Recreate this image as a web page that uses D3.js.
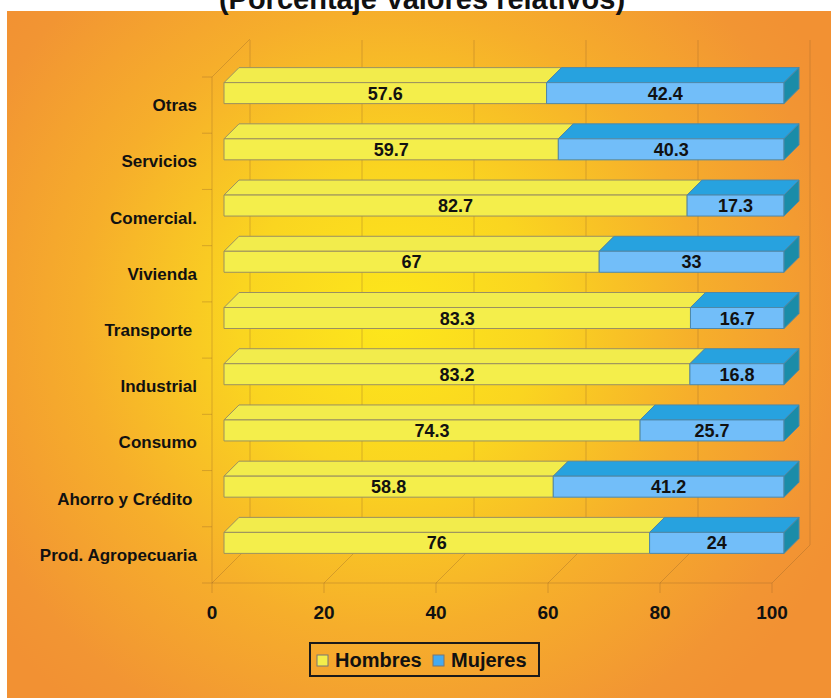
<!DOCTYPE html>
<html><head><meta charset="utf-8">
<script src="https://cdn.jsdelivr.net/npm/d3@7"></script>
<style>
html,body{margin:0;padding:0;background:#fff;}
svg{display:block;font-family:"Liberation Sans",Arial,sans-serif;}
</style></head>
<body>
<svg id="chart" width="831" height="698"></svg>
<script>
const title = "(Porcentaje Valores relativos)";
const categories = ["Otras","Servicios","Comercial.","Vivienda","Transporte ","Industrial","Consumo","Ahorro y Crédito ","Prod. Agropecuaria"];
const hombres = [57.6,59.7,82.7,67,83.3,83.2,74.3,58.8,76];
const mujeres = [42.4,40.3,17.3,33,16.7,16.8,25.7,41.2,24];
const seriesNames = ["Hombres","Mujeres"];
const xTicks = [0,20,40,60,80,100];

const svg = d3.select("#chart");
const defs = svg.append("defs");
const grad = defs.append("radialGradient").attr("id","bg")
  .attr("gradientUnits","userSpaceOnUse").attr("cx",390).attr("cy",320).attr("r",500);
[[0,"#FDE71B"],[0.3,"#FAD520"],[0.62,"#F6AE2B"],[0.9,"#F29533"],[1,"#F29133"]]
  .forEach(([o,c])=>grad.append("stop").attr("offset",o).attr("stop-color",c));

svg.append("rect").attr("x",7).attr("y",11).attr("width",824).attr("height",687).attr("fill","url(#bg)");

svg.append("text").attr("x",422).attr("y",9).attr("text-anchor","middle")
  .attr("font-size",29).attr("font-weight","bold").attr("fill","#111").text(title);

const x = d3.scaleLinear().domain([0,100]).range([212,772]);
const y = d3.scaleBand().domain(categories).range([77,583]);
const D = 38;        // full depth
const off = 12;      // bar front face depth offset
const bd = 15;       // bar depth
const faceH = 21;

const grid = svg.append("g").attr("stroke","rgba(150,100,40,0.35)").attr("stroke-width",1).attr("fill","none");
// back wall vertical gridlines
xTicks.forEach(t=>{
  grid.append("line").attr("x1",x(t)+D).attr("x2",x(t)+D).attr("y1",y.range()[0]-D+1).attr("y2",y.range()[1]-D);
  grid.append("line").attr("x1",x(t)).attr("y1",y.range()[1]).attr("x2",x(t)+D).attr("y2",y.range()[1]-D);
});
// left wall top edge
grid.append("line").attr("x1",x(0)).attr("y1",y.range()[0]).attr("x2",x(0)+D).attr("y2",y.range()[0]-D);
// front axes
grid.append("line").attr("x1",x(0)).attr("x2",x(0)).attr("y1",y.range()[0]).attr("y2",y.range()[1]);
grid.append("line").attr("x1",x(0)).attr("x2",x(100)).attr("y1",y.range()[1]).attr("y2",y.range()[1]);
// y ticks at band boundaries
categories.forEach((c,i)=>{
  grid.append("line").attr("x1",202).attr("x2",x(0)).attr("y1",y(c)).attr("y2",y(c));
});
grid.append("line").attr("x1",202).attr("x2",x(0)).attr("y1",y.range()[1]).attr("y2",y.range()[1]);
// x ticks
xTicks.forEach(t=>{
  grid.append("line").attr("x1",x(t)).attr("x2",x(t)).attr("y1",y.range()[1]).attr("y2",y.range()[1]+10);
});

// x tick labels
svg.append("g").selectAll("text").data(xTicks).join("text")
  .attr("x",d=>x(d)).attr("y",619).attr("text-anchor","middle")
  .attr("font-size",19).attr("font-weight","bold").attr("fill","#111").text(d=>d);

// category labels
svg.append("g").selectAll("text").data(categories).join("text")
  .attr("x",197).attr("y",d=>y(d)+y.bandwidth()/2+6)
  .attr("text-anchor","end").style("white-space","pre")
  .attr("font-size",17).attr("font-weight","bold").attr("fill","#111").text(d=>d);

const colors = {
  Hombres:{front:"#F4EE4B",top:"#F2EC4C",side:"#D9D23C",stroke:"#9A9060"},
  Mujeres:{front:"#72BEF9",top:"#27A2DF",side:"#1A8CA8",stroke:"#4E88A8"}
};
const poly = (g,pts,fill,stroke)=>g.append("polygon").attr("points",pts.map(p=>p.join(",")).join(" "))
  .attr("fill",fill).attr("stroke",stroke).attr("stroke-width",1).attr("stroke-linejoin","round");

const bars = svg.append("g");
categories.forEach((c,i)=>{
  const cy = y(c)+y.bandwidth()/2 - off;
  const y0 = cy - faceH/2, y1 = cy + faceH/2;
  const segs = [
    {name:"Hombres",a:0,b:hombres[i],v:hombres[i]},
    {name:"Mujeres",a:hombres[i],b:hombres[i]+mujeres[i],v:mujeres[i]}
  ];
  const g = bars.append("g");
  segs.forEach((s,k)=>{
    const col = colors[s.name];
    const xa = x(s.a)+off, xb = x(s.b)+off;
    poly(g,[[xa,y0],[xa+bd,y0-bd],[xb+bd,y0-bd],[xb,y0]],col.top,col.stroke);
    poly(g,[[xa,y0],[xb,y0],[xb,y1],[xa,y1]],col.front,col.stroke);
    if(k===segs.length-1){
      poly(g,[[xb,y0],[xb+bd,y0-bd],[xb+bd,y1-bd],[xb,y1]],col.side,col.stroke);
    }
    g.append("text").attr("x",(xa+xb)/2).attr("y",cy+6.5).attr("text-anchor","middle")
      .attr("font-size",18).attr("font-weight","bold").attr("fill","#111").text(s.v);
  });
});

// legend
const lg = svg.append("g");
lg.append("rect").attr("x",310).attr("y",643).attr("width",229).attr("height",33)
  .attr("fill","none").attr("stroke","#1a1a1a").attr("stroke-width",2);
const legendItems = [{name:seriesNames[0],sx:317,tx:335},{name:seriesNames[1],sx:433,tx:451}];
legendItems.forEach(it=>{
  lg.append("rect").attr("x",it.sx).attr("y",655).attr("width",11).attr("height",11)
    .attr("fill",colors[it.name].front==="#72BEF9"?"#45AAF0":colors[it.name].front).attr("stroke","#777").attr("stroke-width",1);
  lg.append("text").attr("x",it.tx).attr("y",667).attr("font-size",20).attr("font-weight","bold")
    .attr("fill","#111").text(it.name);
});
</script>
</body></html>
